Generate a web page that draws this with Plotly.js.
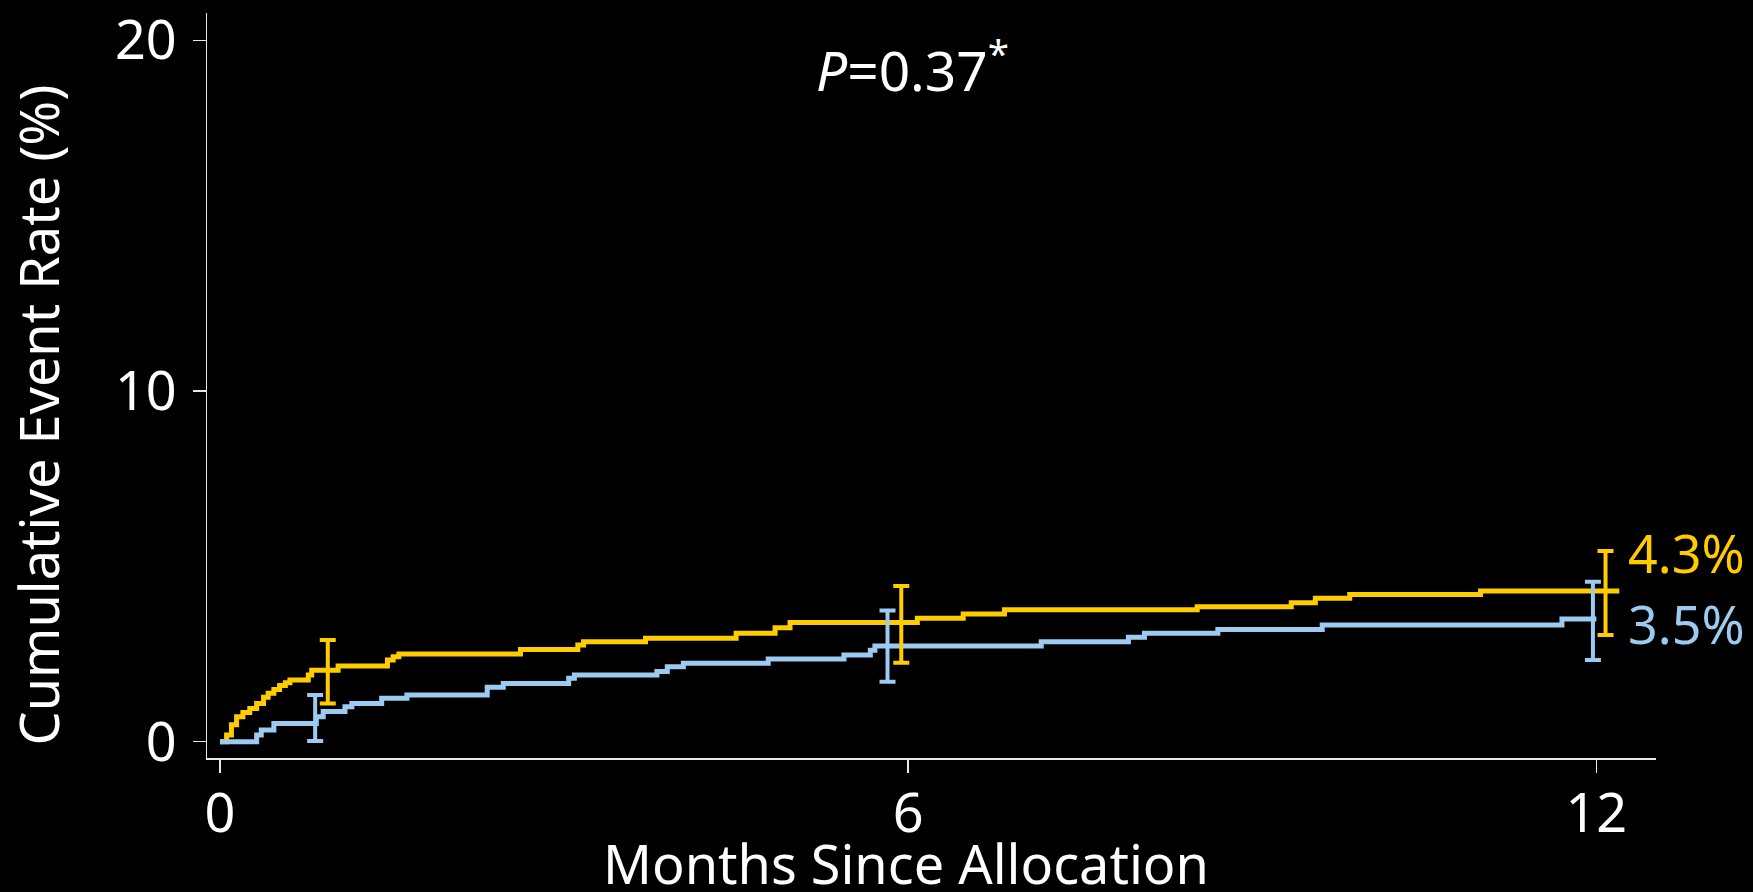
<!DOCTYPE html>
<html>
<head>
<meta charset="utf-8">
<script src="https://cdn.plot.ly/plotly-3.0.1.min.js"></script>
<style>
  html, body { margin: 0; padding: 0; background: #000; }
  #chart { width: 1753px; height: 892px; }
</style>
</head>
<body>
<div id="chart"></div>
<script>
// Kaplan-Meier style cumulative event curves (months since allocation, %)
const yellowMonths = [0, 0.058, 0.10, 0.145, 0.20, 0.26, 0.32, 0.38, 0.42, 0.47, 0.52, 0.57, 0.61, 0.77, 0.80, 1.03, 1.46, 1.51, 1.56, 2.62, 3.12, 3.17, 3.71, 4.50, 4.84, 4.97, 6.08, 6.48, 6.84, 8.52, 9.34, 9.55, 9.85, 10.99, 12.20];
const yellowRate   = [0, 0.19, 0.48, 0.71, 0.83, 0.95, 1.09, 1.27, 1.38, 1.49, 1.60, 1.68, 1.76, 1.90, 2.04, 2.16, 2.33, 2.42, 2.50, 2.63, 2.76, 2.85, 2.95, 3.09, 3.25, 3.40, 3.52, 3.64, 3.76, 3.85, 3.96, 4.09, 4.20, 4.30, 4.30];

const blueMonths = [0, 0.32, 0.36, 0.47, 0.84, 0.90, 1.09, 1.15, 1.41, 1.63, 2.33, 2.47, 3.04, 3.09, 3.81, 3.90, 4.04, 4.78, 5.44, 5.67, 5.71, 7.16, 7.92, 8.06, 8.70, 9.61, 11.70, 12.00];
const blueRate   = [0, 0.19, 0.33, 0.52, 0.71, 0.86, 1.00, 1.09, 1.24, 1.33, 1.55, 1.66, 1.81, 1.90, 2.00, 2.14, 2.24, 2.36, 2.47, 2.61, 2.73, 2.85, 2.98, 3.09, 3.20, 3.33, 3.50, 3.50];

// 95% confidence intervals at selected time points
const yellowCiMonths = [0.94, 5.94, 12.08];
const yellowCiEst    = [2.04, 3.40, 4.30];
const yellowCiLow    = [1.09, 2.25, 3.04];
const yellowCiHigh   = [2.90, 4.44, 5.44];

const blueCiMonths = [0.83, 5.82, 11.97];
const blueCiEst    = [0.52, 2.73, 3.50];
const blueCiLow    = [0.02, 1.71, 2.33];
const blueCiHigh   = [1.33, 3.74, 4.56];

const xTicks = [0, 6, 12];
const yTicks = [0, 10, 20];

const pLabel = "<i>P</i>=0.37<sup>*</sup>";
const xTitle = "Months Since Allocation";
const yTitle = "Cumulative Event Rate (%)";

const YELLOW = "#FFCC00";
const BLUE = "#9CCAF0";
const FONT = "Noto Sans, Open Sans, DejaVu Sans, sans-serif";
const AXIS = "#e8e8e8";

const finalYellow = yellowRate[yellowRate.length - 1];
const finalBlue = blueRate[blueRate.length - 1];

function ciTrace(t, est, lo, hi, color) {
  return {
    type: "scatter",
    mode: "markers",
    x: t,
    y: est,
    marker: { size: 1, opacity: 0 },
    hoverinfo: "skip",
    showlegend: false,
    error_y: {
      type: "data",
      symmetric: false,
      array: hi.map((h, i) => h - est[i]),
      arrayminus: lo.map((l, i) => est[i] - l),
      color: color,
      thickness: 4,
      width: 8
    }
  };
}

const data = [
  {
    type: "scatter", mode: "lines",
    x: yellowMonths, y: yellowRate,
    line: { shape: "hv", color: YELLOW, width: 5 },
    showlegend: false, hoverinfo: "skip"
  },
  {
    type: "scatter", mode: "lines",
    x: blueMonths, y: blueRate,
    line: { shape: "hv", color: BLUE, width: 5 },
    showlegend: false, hoverinfo: "skip"
  },
  ciTrace(yellowCiMonths, yellowCiEst, yellowCiLow, yellowCiHigh, YELLOW),
  ciTrace(blueCiMonths, blueCiEst, blueCiLow, blueCiHigh, BLUE)
];

const axisCommon = {
  showgrid: false,
  zeroline: false,
  showline: true,
  linecolor: AXIS,
  linewidth: 1.5,
  ticks: "outside",
  ticklen: 13,
  tickwidth: 1.5,
  tickcolor: AXIS,
  tickfont: { family: FONT, size: 54, color: "#ffffff" },
  tickmode: "array"
};

const layout = {
  width: 1753,
  height: 892,
  paper_bgcolor: "#000000",
  plot_bgcolor: "#000000",
  margin: { l: 207, r: 97, t: 13, b: 134 },
  showlegend: false,
  font: { family: FONT, color: "#ffffff" },
  xaxis: Object.assign({}, axisCommon, {
    range: [-0.113, 12.52],
    tickvals: xTicks,
    ticktext: xTicks.map(String),
    ticklabelstandoff: -5
  }),
  yaxis: Object.assign({}, axisCommon, {
    range: [-0.465, 20.78],
    tickvals: yTicks,
    ticktext: yTicks.map(String),
    ticklabelstandoff: 5
  }),
  annotations: [
    {
      text: yTitle, textangle: -90, showarrow: false,
      xref: "paper", yref: "paper", x: -0.1165, y: 0.4600,
      xanchor: "center", yanchor: "middle",
      font: { family: FONT, size: 54, color: "#ffffff" }
    },
    {
      text: xTitle, showarrow: false,
      xref: "paper", yref: "paper", x: 0.4824, y: -0.141,
      xanchor: "center", yanchor: "middle",
      font: { family: FONT, size: 54, color: "#ffffff" }
    },
    {
      text: pLabel, showarrow: false,
      xref: "paper", yref: "paper", x: 0.4872, y: 0.928,
      xanchor: "center", yanchor: "middle",
      font: { family: FONT, size: 55, color: "#ffffff" }
    },
    {
      text: finalYellow.toFixed(1) + "%", showarrow: false,
      xref: "paper", yref: "paper", x: 0.979, y: 0.2752,
      xanchor: "left", yanchor: "middle",
      font: { family: FONT, size: 52, color: YELLOW }
    },
    {
      text: finalBlue.toFixed(1) + "%", showarrow: false,
      xref: "paper", yref: "paper", x: 0.979, y: 0.1812,
      xanchor: "left", yanchor: "middle",
      font: { family: FONT, size: 52, color: BLUE }
    }
  ]
};

Plotly.newPlot("chart", data, layout, { staticPlot: true, displayModeBar: false });
</script>
</body>
</html>
